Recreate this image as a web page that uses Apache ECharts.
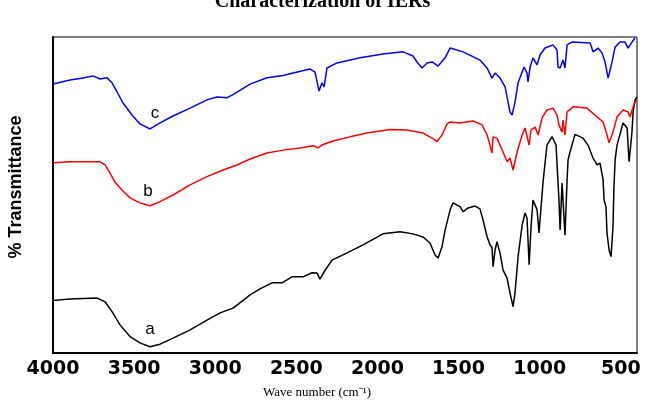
<!DOCTYPE html>
<html>
<head>
<meta charset="utf-8">
<script src="https://cdn.jsdelivr.net/npm/echarts@6/dist/echarts.min.js"></script>
<style>
  html, body { margin: 0; padding: 0; background: #fff; }
  #chart { width: 645px; height: 400px; }
</style>
</head>
<body>
<div id="chart"></div>
<script>
// FTIR spectra, [wave number (cm-1), % transmittance]
var curveA = [
  [4000, 16.6], [3895, 17.1], [3729, 17.4], [3679, 16.2], [3636, 13.1], [3587, 8.9],
  [3525, 5.2], [3464, 3.2], [3402, 2.0], [3340, 2.8], [3260, 4.7], [3155, 7.3],
  [3051, 10.4], [2970, 12.7], [2890, 14.2], [2785, 18.4], [2724, 20.3], [2650, 22.2],
  [2588, 22.2], [2527, 24.1], [2459, 24.1], [2403, 25.4], [2372, 25.3], [2354, 23.4],
  [2329, 25.7], [2280, 29.4], [2187, 31.7], [2089, 34.2], [1966, 37.7], [1861, 38.4],
  [1781, 37.7], [1719, 36.7], [1676, 34.8], [1645, 31.0], [1626, 30.1], [1602, 33.6],
  [1583, 38.9], [1552, 45.3], [1534, 47.5], [1491, 46.3], [1472, 44.7], [1441, 45.9],
  [1398, 46.5], [1368, 45.6], [1349, 42.1], [1324, 36.8], [1306, 34.2], [1294, 33.5],
  [1287, 27.3], [1275, 32.6], [1263, 35.2], [1244, 31.6], [1226, 26.3], [1201, 23.7],
  [1183, 19.0], [1164, 14.7], [1152, 19.0], [1133, 30.5], [1108, 40.5], [1090, 44.3],
  [1078, 42.7], [1065, 27.9], [1053, 40.0], [1041, 48.4], [1016, 45.3], [1004, 38.0],
  [979, 54.2], [955, 65.8], [924, 68.5], [899, 65.8], [887, 54.2], [881, 48.4],
  [874, 38.9], [862, 53.8], [844, 37.3], [831, 54.8], [825, 61.1], [813, 63.6],
  [782, 69.2], [733, 68.0], [702, 65.8], [671, 61.7], [646, 59.5], [628, 60.1],
  [609, 54.8], [603, 48.4], [591, 46.3], [585, 38.0], [572, 32.6], [560, 30.5],
  [548, 40.0], [542, 52.6], [535, 61.1], [523, 65.8], [486, 72.8], [461, 71.2],
  [449, 60.5], [437, 60.8], [431, 69.9], [424, 76.3], [412, 80.1], [400, 81.0]
];
var curveB = [
  [4000, 60.2], [3895, 60.5], [3710, 60.5], [3679, 59.5], [3649, 57.0], [3618, 54.1],
  [3575, 51.6], [3525, 49.1], [3464, 47.5], [3402, 46.6], [3340, 47.9], [3260, 50.0],
  [3155, 53.2], [3051, 55.8], [2952, 57.9], [2866, 59.5], [2785, 61.4], [2681, 63.3],
  [2582, 64.2], [2477, 64.9], [2397, 65.6], [2366, 64.9], [2342, 65.8], [2274, 67.1],
  [2169, 68.4], [2064, 69.6], [1922, 70.7], [1818, 70.6], [1719, 69.6], [1663, 68.0],
  [1633, 66.9], [1602, 69.0], [1571, 72.5], [1552, 73.1], [1491, 72.8], [1411, 73.4],
  [1355, 72.2], [1324, 69.0], [1306, 65.8], [1294, 63.3], [1287, 68.4], [1263, 68.0],
  [1226, 63.6], [1201, 60.5], [1183, 61.7], [1164, 57.9], [1139, 63.6], [1108, 69.0],
  [1090, 71.2], [1078, 70.6], [1065, 65.8], [1053, 70.6], [1028, 71.5], [1010, 69.0],
  [985, 74.4], [955, 76.9], [918, 77.5], [893, 75.3], [881, 72.2], [862, 69.9],
  [856, 73.7], [844, 69.0], [831, 76.3], [794, 77.9], [708, 77.5], [646, 74.7],
  [609, 73.1], [585, 69.0], [572, 66.5], [548, 69.9], [523, 74.7], [486, 76.9],
  [455, 76.3], [443, 74.7], [424, 77.9], [412, 79.4], [400, 80.1]
];
var curveC = [
  [4000, 85.1], [3895, 86.4], [3815, 87.0], [3753, 87.7], [3710, 86.7], [3667, 87.1],
  [3636, 85.5], [3605, 82.6], [3568, 79.1], [3513, 75.3], [3464, 72.5], [3402, 70.9],
  [3340, 72.8], [3260, 75.0], [3155, 77.5], [3051, 80.1], [2989, 81.0], [2927, 80.8],
  [2896, 81.6], [2785, 85.1], [2681, 87.1], [2582, 87.8], [2520, 88.6], [2416, 89.9],
  [2385, 88.9], [2372, 85.8], [2360, 82.9], [2342, 85.5], [2329, 84.2], [2311, 90.2],
  [2249, 91.8], [2107, 93.4], [1966, 94.6], [1842, 95.3], [1781, 94.0], [1756, 92.1],
  [1725, 90.2], [1694, 91.8], [1663, 92.1], [1626, 90.8], [1583, 93.4], [1552, 96.5],
  [1472, 95.3], [1368, 92.7], [1324, 90.2], [1294, 87.0], [1275, 88.6], [1244, 87.0],
  [1213, 84.2], [1183, 76.3], [1170, 75.3], [1152, 79.4], [1133, 85.5], [1108, 88.9],
  [1096, 90.5], [1078, 88.6], [1072, 85.8], [1059, 90.5], [1041, 93.4], [1016, 91.2],
  [998, 94.3], [967, 96.5], [918, 97.5], [893, 95.9], [887, 90.5], [874, 90.2],
  [856, 92.7], [844, 90.2], [831, 97.5], [800, 98.4], [689, 98.1], [671, 95.3],
  [640, 96.5], [615, 94.9], [597, 92.1], [578, 87.0], [554, 92.1], [535, 96.8],
  [505, 98.4], [474, 98.4], [455, 96.5], [431, 98.4], [412, 99.7]
];
var xTicks = [4000, 3500, 3000, 2500, 2000, 1500, 1000, 500];
var labelA = [3402, 7.6];
var labelB = [3414, 51.3];
var labelC = [3371, 76.0];

var chart = echarts.init(document.getElementById("chart"));

var makeSeries = function(name, data, color, labelAt) {
    return {
        name: name,
        type: "line",
        data: data,
        showSymbol: false,
        silent: true,
        lineStyle: { color: color, width: 1.5 },
        markPoint: {
            symbol: "circle",
            symbolSize: 0,
            silent: true,
            label: {
                show: true,
                formatter: name,
                color: "#000",
                fontSize: 17,
                fontFamily: "Liberation Sans, Arial, sans-serif"
            },
            data: [{ coord: labelAt }]
        }
    };
};

chart.setOption({
    animation: false,
    title: {
        text: "Characterization of IERs",
        left: "center",
        top: -8,
        padding: 0,
        textStyle: {
            fontFamily: "Liberation Serif, Times New Roman, serif",
            fontWeight: "bold",
            fontSize: 20,
            color: "#000"
        }
    },
    grid: {
        left: 53,
        right: 8,
        top: 37,
        bottom: 47,
        containLabel: false,
        outerBoundsMode: "none",
        show: true,
        borderColor: "#000",
        borderWidth: 1
    },
    xAxis: {
        type: "value",
        min: 400,
        max: 4000,
        inverse: true,
        name: "Wave number (cm\u207B\u00B9)",
        nameLocation: "middle",
        nameGap: 33,
        nameTextStyle: {
            fontFamily: "Liberation Serif, Times New Roman, serif",
            fontSize: 13,
            color: "#000",
            padding: [0, 56, 0, 0]
        },
        splitLine: { show: false },
        axisTick: { show: false },
        axisLine: { lineStyle: { color: "#000", width: 2 } },
        axisLabel: {
            customValues: xTicks,
            formatter: function(v) { return String(v); },
            margin: 7,
            color: "#000",
            fontFamily: "DejaVu Sans, sans-serif",
            fontWeight: "bold",
            fontSize: 19
        }
    },
    yAxis: {
        type: "value",
        min: 0,
        max: 100,
        name: "% Transmittance",
        nameLocation: "middle",
        nameRotate: 90,
        nameGap: 28,
        nameTextStyle: {
            fontFamily: "Liberation Sans, Arial, sans-serif",
            fontWeight: "bold",
            fontSize: 18,
            color: "#000",
            padding: [0, 0, 0, 16]
        },
        splitLine: { show: false },
        axisTick: { show: false },
        axisLabel: { show: false },
        axisLine: { show: true, lineStyle: { color: "#000", width: 2 } }
    },
    series: [
        makeSeries("a", curveA, "#000000", labelA),
        makeSeries("b", curveB, "#ff0000", labelB),
        makeSeries("c", curveC, "#0000ff", labelC)
    ]
});
</script>
</body>
</html>
